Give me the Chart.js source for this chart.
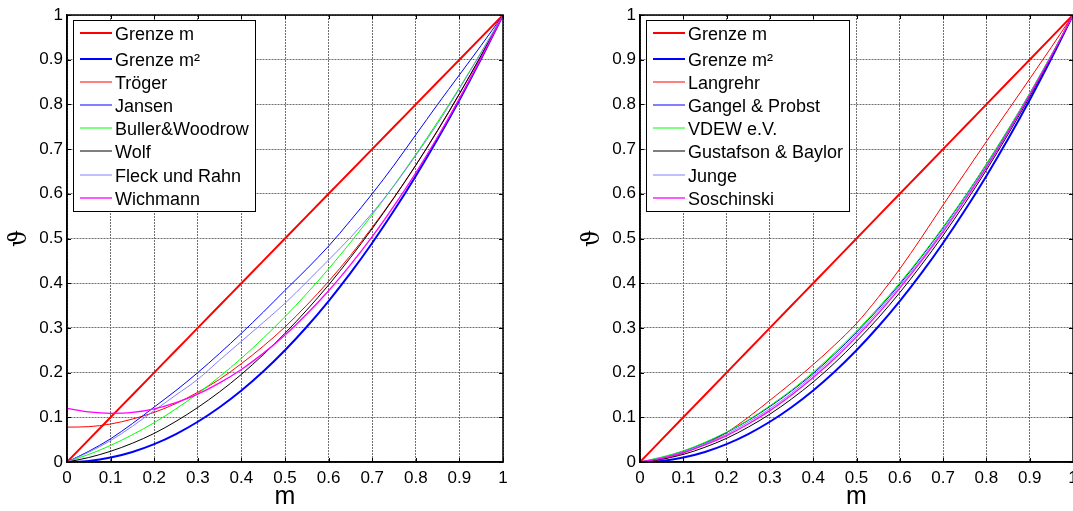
<!DOCTYPE html>
<html>
<head>
<meta charset="utf-8">
<script src="https://cdn.jsdelivr.net/npm/chart.js@4.4.1/dist/chart.umd.min.js"></script>
<style>
  html, body { margin: 0; padding: 0; background: #fff; overflow: hidden; width: 1073px; height: 511px; }
  .panel { position: absolute; top: 0; width: 536px; height: 511px; }
</style>
</head>
<body>
<div class="panel" style="left:0"><canvas id="leftChart" width="536" height="511"></canvas></div>
<div class="panel" style="left:573px"><canvas id="rightChart" width="536" height="511"></canvas></div>
<script>
// m values (x axis)
const mValues = [0, 0.05, 0.1, 0.15, 0.2, 0.25, 0.3, 0.35, 0.4, 0.45, 0.5, 0.55, 0.6, 0.65, 0.7, 0.75, 0.8, 0.85, 0.9, 0.95, 1];
const tickLabels = ['0', '0.1', '0.2', '0.3', '0.4', '0.5', '0.6', '0.7', '0.8', '0.9', '1'];

// limits, shared by both panels
const grenzeM  = [0, 0.05, 0.1, 0.15, 0.2, 0.25, 0.3, 0.35, 0.4, 0.45, 0.5, 0.55, 0.6, 0.65, 0.7, 0.75, 0.8, 0.85, 0.9, 0.95, 1];
const grenzeM2 = [0, 0.0025, 0.01, 0.0225, 0.04, 0.0625, 0.09, 0.1225, 0.16, 0.2025, 0.25, 0.3025, 0.36, 0.4225, 0.49, 0.5625, 0.64, 0.7225, 0.81, 0.9025, 1];

// left panel
const troeger = [0.078, 0.079, 0.085, 0.096, 0.111, 0.131, 0.156, 0.185, 0.22, 0.259, 0.302, 0.351, 0.404, 0.462, 0.525, 0.592, 0.664, 0.741, 0.823, 0.909, 1];
const jansen  = [0, 0.024, 0.052, 0.086, 0.123, 0.16, 0.2, 0.243, 0.288, 0.335, 0.384, 0.432, 0.483, 0.54, 0.6, 0.664, 0.732, 0.8, 0.866, 0.932, 1];
const buller  = [0, 0.017, 0.037, 0.061, 0.088, 0.119, 0.153, 0.191, 0.232, 0.277, 0.325, 0.377, 0.432, 0.491, 0.553, 0.619, 0.688, 0.761, 0.837, 0.917, 1];
const wolf    = [0, 0.01, 0.024, 0.042, 0.064, 0.091, 0.122, 0.157, 0.196, 0.24, 0.288, 0.34, 0.396, 0.457, 0.522, 0.591, 0.664, 0.742, 0.824, 0.91, 1];
const fleck   = [0, 0.022, 0.048, 0.08, 0.115, 0.15, 0.185, 0.228, 0.27, 0.312, 0.355, 0.403, 0.452, 0.502, 0.557, 0.618, 0.686, 0.757, 0.835, 0.916, 1];
const wichmann = [0.12, 0.112, 0.109, 0.111, 0.119, 0.133, 0.152, 0.177, 0.207, 0.243, 0.284, 0.331, 0.383, 0.441, 0.504, 0.573, 0.647, 0.727, 0.813, 0.904, 1];

// right panel
const langrehr   = [0, 0.006, 0.02, 0.04, 0.066, 0.1, 0.138, 0.177, 0.218, 0.262, 0.31, 0.368, 0.432, 0.502, 0.575, 0.646, 0.717, 0.787, 0.857, 0.928, 1];
const gangel     = [0, 0.01, 0.024, 0.043, 0.066, 0.093, 0.124, 0.159, 0.198, 0.242, 0.29, 0.342, 0.398, 0.459, 0.524, 0.593, 0.666, 0.743, 0.824, 0.91, 1];
const vdew       = [0, 0.011, 0.025, 0.044, 0.067, 0.094, 0.126, 0.161, 0.201, 0.245, 0.293, 0.345, 0.401, 0.461, 0.526, 0.594, 0.667, 0.744, 0.825, 0.911, 1];
const gustafson  = [0, 0.006, 0.017, 0.033, 0.053, 0.078, 0.107, 0.141, 0.179, 0.222, 0.27, 0.322, 0.379, 0.441, 0.507, 0.578, 0.653, 0.733, 0.817, 0.906, 1];
const junge      = [0, 0.009, 0.023, 0.04, 0.062, 0.089, 0.119, 0.154, 0.194, 0.237, 0.285, 0.337, 0.394, 0.454, 0.519, 0.589, 0.662, 0.74, 0.823, 0.909, 1];
const soschinski = [0, 0.008, 0.021, 0.038, 0.059, 0.085, 0.115, 0.15, 0.189, 0.232, 0.28, 0.332, 0.389, 0.45, 0.515, 0.585, 0.659, 0.738, 0.821, 0.908, 1];

const FONT = '"Liberation Sans", Arial, Helvetica, sans-serif';

function series(label, values, color, width, idx, total) {
  return {
    label: label,
    data: mValues.map((m, i) => ({ x: m, y: values[i] })),
    borderColor: color,
    backgroundColor: color,
    borderWidth: width,
    pointRadius: 0,
    cubicInterpolationMode: 'monotone',
    order: total - idx
  };
}

// boxed legend in the upper left corner of the plot, like the MATLAB one
const boxLegend = {
  id: 'boxLegend',
  afterDatasetsDraw(chart) {
    const { ctx, chartArea } = chart;
    const ds = chart.data.datasets;
    ctx.save();
    ctx.font = '18px ' + FONT;
    const textW = Math.max(...ds.map(d => ctx.measureText(d.label).width));
    const x = Math.round(chartArea.left) + 6, y = Math.round(chartArea.top) + 5;
    const w = Math.round(42 + textW + 6), h = 191;
    ctx.fillStyle = '#fff';
    ctx.fillRect(x, y, w, h);
    ctx.strokeStyle = '#000';
    ctx.lineWidth = 1;
    ctx.strokeRect(x + 0.5, y + 0.5, w, h);
    ds.forEach((d, i) => {
      const rowY = Math.round(y + 13 + (i ? 26 + 23.1 * (i - 1) : 0));
      ctx.strokeStyle = d.borderColor;
      ctx.lineWidth = d.borderWidth;
      ctx.beginPath();
      ctx.moveTo(x + 7, rowY);
      ctx.lineTo(x + 39, rowY);
      ctx.stroke();
      ctx.fillStyle = '#000';
      ctx.textBaseline = 'middle';
      ctx.fillText(d.label, x + 42, rowY + 2);
    });
    ctx.restore();
  }
};

// full black frame around the axes, with short inward tick marks on every side
const frame = {
  id: 'frame',
  afterDraw(chart) {
    const { ctx, chartArea: a, scales } = chart;
    ctx.save();
    ctx.strokeStyle = '#000';
    ctx.lineWidth = 1.5;
    ctx.strokeRect(a.left, a.top, a.right - a.left, a.bottom - a.top);
    ctx.lineWidth = 1;
    ctx.beginPath();
    scales.x.ticks.forEach(t => {
      const px = Math.round(scales.x.getPixelForValue(t.value)) + 0.5;
      ctx.moveTo(px, a.bottom); ctx.lineTo(px, a.bottom - 4);
      ctx.moveTo(px, a.top); ctx.lineTo(px, a.top + 4);
    });
    scales.y.ticks.forEach(t => {
      const py = Math.round(scales.y.getPixelForValue(t.value)) + 0.5;
      ctx.moveTo(a.left, py); ctx.lineTo(a.left + 4, py);
      ctx.moveTo(a.right, py); ctx.lineTo(a.right - 4, py);
    });
    ctx.stroke();
    ctx.restore();
  }
};

function makeChart(id, datasets, padRight) {
  const gridOpts = { color: '#6e6e6e', lineWidth: 1, drawTicks: false };
  const borderOpts = { color: '#000', width: 1.5, dash: [2, 1] };
  return new Chart(document.getElementById(id), {
    type: 'line',
    data: { datasets: datasets },
    plugins: [boxLegend, frame],
    options: {
      responsive: false,
      animation: false,
      layout: { padding: { top: 15, right: padRight, bottom: 0, left: 0 } },
      plugins: { legend: { display: false }, tooltip: { enabled: false } },
      scales: {
        x: {
          type: 'linear', min: 0, max: 1,
          grid: gridOpts, border: borderOpts,
          ticks: { stepSize: 0.1, padding: 6, color: '#000', font: { family: FONT, size: 17 },
                   maxRotation: 0, autoSkip: false, callback: (v, i) => tickLabels[i] },
          title: { display: true, text: 'm', color: '#000', padding: { top: 0, bottom: 1 },
                   font: { family: FONT, size: 25, lineHeight: 1 } },
          afterFit(s) { s.height = 49; }
        },
        y: {
          type: 'linear', min: 0, max: 1,
          grid: gridOpts, border: borderOpts,
          ticks: { stepSize: 0.1, padding: 4, color: '#000', font: { family: FONT, size: 17 },
                   autoSkip: false, callback: (v, i) => tickLabels[i] },
          title: { display: true, text: 'ϑ', color: '#000', padding: { top: 5, bottom: 0 },
                   font: { family: '"DejaVu Serif", "Liberation Serif", serif', size: 24, lineHeight: 1.2 } },
          afterFit(s) { s.width = 67; }
        }
      }
    }
  });
}

const leftSeries = [
  ['Grenze m', grenzeM, '#ff0000', 2],
  ['Grenze m²', grenzeM2, '#0000ff', 2],
  ['Tröger', troeger, '#ff0000', 1],
  ['Jansen', jansen, '#0000ff', 1],
  ['Buller&Woodrow', buller, '#00ff00', 1],
  ['Wolf', wolf, '#000000', 1],
  ['Fleck und Rahn', fleck, '#8080ff', 1],
  ['Wichmann', wichmann, '#ff00ff', 1.3]
];
const rightSeries = [
  ['Grenze m', grenzeM, '#ff0000', 2],
  ['Grenze m²', grenzeM2, '#0000ff', 2],
  ['Langrehr', langrehr, '#ff0000', 1],
  ['Gangel & Probst', gangel, '#0000ff', 1],
  ['VDEW e.V.', vdew, '#00ff00', 1],
  ['Gustafson & Baylor', gustafson, '#000000', 1],
  ['Junge', junge, '#8080ff', 1],
  ['Soschinski', soschinski, '#ff00ff', 1.3]
];

makeChart('leftChart', leftSeries.map((s, i) => series(s[0], s[1], s[2], s[3], i, leftSeries.length)), 33);
makeChart('rightChart', rightSeries.map((s, i) => series(s[0], s[1], s[2], s[3], i, rightSeries.length)), 36);
</script>
</body>
</html>
